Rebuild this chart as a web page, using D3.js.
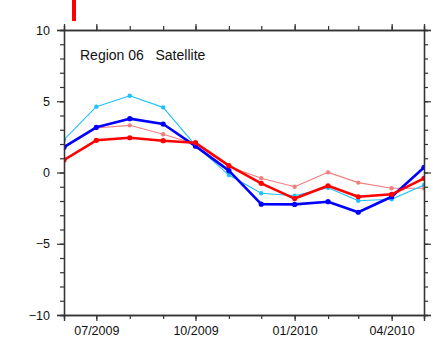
<!DOCTYPE html>
<html>
<head>
<meta charset="utf-8">
<script src="https://cdn.jsdelivr.net/npm/d3@7"></script>
<style>
  html, body { margin: 0; padding: 0; background: #fff; }
  svg { display: block; font-family: "Liberation Sans", Arial, Helvetica, sans-serif; }
</style>
</head>
<body>
<svg id="chart" width="434" height="346"></svg>
<script>
// Monthly anomalies, Region 06, June 2009 – May 2010
const months = ["2009-06","2009-07","2009-08","2009-09","2009-10","2009-11",
                "2009-12","2010-01","2010-02","2010-03","2010-04","2010-05"];
const satelliteA = [2.3, 4.62, 5.39, 4.57, 1.9, -0.18, -1.46, -1.63, -1.07, -1.98, -1.88, -0.88];   // light blue
const satelliteB = [1.78, 3.17, 3.78, 3.4, 1.85, 0.13, -2.22, -2.24, -2.05, -2.79, -1.7, 0.36];     // blue
const modelA     = [1.75, 3.12, 3.31, 2.68, 2.0, 0.42, -0.4, -1.0, 0.01, -0.71, -1.11, -1.11];     // light red
const modelB     = [0.88, 2.26, 2.44, 2.23, 2.09, 0.48, -0.76, -1.83, -0.93, -1.7, -1.53, -0.41];  // red
const yTicks = [-10, -5, 0, 5, 10];
const xTickLabels = ["07/2009", "10/2009", "01/2010", "04/2010"];
const title = "Region 06   Satellite";

const parse = d3.utcParse("%Y-%m");
const dates = months.map(parse);

const svg = d3.select("#chart");
const L = 64, R = 424, T = 30, B = 315;

const x = d3.scaleUtc().domain([dates[0], dates[dates.length - 1]]).range([L, R]);
const y = d3.scaleLinear().domain([-10, 10]).range([B, T]);

// plot-area clip so lines and markers stop at the frame
svg.append("defs").append("clipPath").attr("id", "plotClip")
  .append("rect").attr("x", L).attr("y", T).attr("width", R - L).attr("height", B - T);

// small red marker above the frame
svg.append("rect").attr("x", 72).attr("y", 0).attr("width", 4).attr("height", 21).attr("fill", "#ff0000");

// series
const series = [
  { v: modelA,     color: "#f08080", w: 1.1, r: 2.2 },
  { v: satelliteA, color: "#1ec0ff", w: 1.1, r: 2.2 },
  { v: satelliteB, color: "#0000ff", w: 2.6, r: 2.6 },
  { v: modelB,     color: "#ff0000", w: 2.6, r: 2.6 }
];
const line = d3.line().x((d, i) => x(dates[i])).y(d => y(d));
const gS = svg.append("g").attr("clip-path", "url(#plotClip)");
series.forEach(s => {
  gS.append("path").datum(s.v).attr("d", line)
    .attr("fill", "none").attr("stroke", s.color).attr("stroke-width", s.w)
    .attr("stroke-linejoin", "round");
  gS.selectAll(null).data(s.v).enter().append("circle")
    .attr("cx", (d, i) => x(dates[i])).attr("cy", d => y(d))
    .attr("r", s.r).attr("fill", s.color);
});

// axes
const axisColor = "#333";
const monthTicks = d3.utcMonth.range(dates[0], d3.utcDay.offset(dates[dates.length - 1], 1));
const majorMonths = monthTicks.filter(d => [0, 3, 6, 9].includes(d.getUTCMonth()));
const fmt = d3.utcFormat("%m/%Y");

function styleAxis(g) {
  g.select(".domain").attr("stroke", axisColor).attr("stroke-width", 1.3);
  g.selectAll(".tick line").attr("stroke", axisColor).attr("stroke-width", 1.2);
  g.selectAll(".tick text").attr("fill", "#111").style("font-size", "12.5px")
    .style("font-family", '"Liberation Sans", Arial, Helvetica, sans-serif');
}

// bottom: minor monthly ticks, then major labelled ticks
svg.append("g").attr("transform", `translate(0,${B})`)
  .call(d3.axisBottom(x).tickValues(monthTicks).tickSize(4).tickFormat(""))
  .call(styleAxis);
const gxb = svg.append("g").attr("transform", `translate(0,${B})`)
  .call(d3.axisBottom(x).tickValues(majorMonths).tickSize(6).tickPadding(5).tickFormat(fmt))
  .call(styleAxis);
gxb.selectAll(".tick text").attr("dy", "0.71em").attr("y", 11);

// top
svg.append("g").attr("transform", `translate(0,${T})`)
  .call(d3.axisTop(x).tickValues(monthTicks).tickSize(4).tickFormat(""))
  .call(styleAxis);
svg.append("g").attr("transform", `translate(0,${T})`)
  .call(d3.axisTop(x).tickValues(majorMonths).tickSize(6).tickFormat(""))
  .call(styleAxis);

// left
const yMinor = d3.range(-10, 11, 1);
svg.append("g").attr("transform", `translate(${L},0)`)
  .call(d3.axisLeft(y).tickValues(yMinor).tickSize(4).tickFormat(""))
  .call(styleAxis);
svg.append("g").attr("transform", `translate(${L},0)`)
  .call(d3.axisLeft(y).tickValues(yTicks).tickSize(7).tickPadding(7).tickFormat(d3.format("d")))
  .call(styleAxis);

// right
svg.append("g").attr("transform", `translate(${R},0)`)
  .call(d3.axisRight(y).tickValues(yMinor).tickSize(4).tickFormat(""))
  .call(styleAxis);
svg.append("g").attr("transform", `translate(${R},0)`)
  .call(d3.axisRight(y).tickValues(yTicks).tickSize(7).tickFormat(""))
  .call(styleAxis);

// title inside the frame
svg.append("text").attr("x", 80).attr("y", 60)
  .attr("fill", "#111").style("font-size", "14px").style("white-space", "pre")
  .attr("xml:space", "preserve")
  .text(title);
</script>
</body>
</html>
